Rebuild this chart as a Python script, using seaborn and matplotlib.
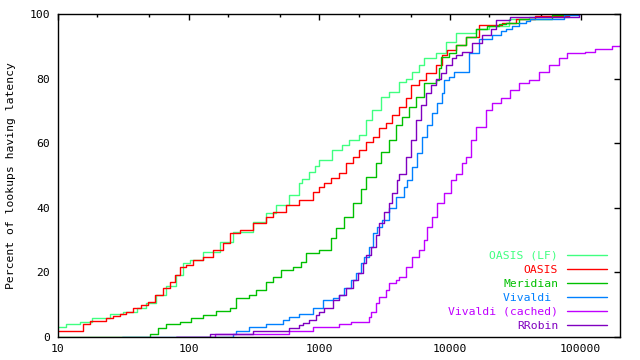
import matplotlib
matplotlib.use("Agg")
import pandas as pd
import seaborn as sns
import matplotlib.pyplot as plt
from matplotlib.ticker import FixedLocator, NullFormatter

# latency (ms) / percent of lookups
lf_ms = [10, 11.6, 14.7, 18.1, 23.5, 24.9, 31.3, 39.9, 47.5, 56.6, 67.6, 80.5, 89.9, 101.8, 128, 172.6,
         217, 308, 392, 467, 590, 703, 741, 839, 931, 1000, 1257, 1499, 1695, 2019, 2284, 2540, 2974,
         3423, 4083, 4616, 5128, 5800, 6335, 7820, 9320, 11120, 15790, 19860, 28200, 40100, 81000]
lf_pct = [3, 4, 4.7, 5.8, 6, 7, 7.8, 8.9, 10.4, 13, 15.8, 19.2, 22.8, 23.8, 26.4, 29.5,
          32.6, 35.7, 38.3, 40.9, 44, 47.6, 49, 51, 53, 54.8, 57.9, 59.4, 61, 62.5, 67.2, 70.3, 74.4,
          75.9, 79, 80, 82.1, 84.2, 86.3, 87.8, 91.4, 94.2, 95.3, 96.3, 98.3, 99, 100]

oasis_ms = [10, 15.6, 17.5, 23.5, 26.4, 29.7, 33.4, 37.6, 43.5, 48.9, 55, 63.7, 71.6, 78.2, 85.4, 96,
            108, 128.5, 153, 183, 205.6, 245, 310, 392, 440, 557, 703, 889, 989, 1091, 1228, 1422,
            1600, 1795, 2020, 2272, 2553, 2871, 3228, 3630, 4081, 4590, 5012, 5797, 6529, 7780, 8735,
            9533, 11060, 13190, 16640, 24950, 31750, 45100, 80900]
oasis_pct = [2, 3.9, 4.9, 5.8, 6.5, 7, 7.8, 8.9, 9.9, 10.9, 13, 15.1, 17.1, 19.2, 21.8, 22.3,
             23.8, 24.9, 26.9, 29, 32.1, 33.1, 35.2, 37.2, 38.8, 40.9, 42.4, 45, 46.5, 47.6, 49.1, 50.7,
             53.8, 55.8, 57.9, 60.5, 62, 64.6, 66.2, 68.7, 71.3, 73.9, 78, 79.6, 81.6, 84.2, 87.3,
             88.9, 90.4, 93, 96.6, 97.1, 98.3, 99.4, 100]

meridian_ms = [10, 51, 58.3, 67.6, 85.4, 105, 128.5, 162.7, 205.6, 231, 292, 329, 392, 440, 510, 626,
               725, 791, 1000, 1228, 1341, 1552, 1795, 2080, 2272, 2710, 2958, 3423, 3850, 4325, 4863,
               5470, 6335, 7780, 8240, 8530, 9820, 11060, 13190, 15710, 19270, 23660, 26610, 33620,
               60100, 76400]
meridian_pct = [0, 0.8, 2.7, 3.9, 4.7, 6, 6.8, 8.1, 8.9, 12, 13, 14.6, 17.1, 18.7, 20.7, 21.8,
                23.3, 25.9, 26.9, 30.6, 33.7, 37.2, 41.4, 45.7, 49.6, 53.8, 57.4, 61, 65.6, 68.2, 71.3,
                74.4, 78.5, 79.6, 83.2, 86.8, 87.8, 90.4, 93, 95.5, 96.2, 96.8, 97.3, 98.3,
                99.7, 100]

vivaldi_ms = [31, 218, 231, 292, 392, 524, 590, 703, 889, 1060, 1264, 1422, 1552, 1746, 1905, 2080,
              2206, 2408, 2553, 2786, 3041, 3423, 3850, 4455, 4722, 5155, 5626, 6145, 6710, 7325, 8000,
              8650, 9000, 9820, 10730, 13960, 16640, 21030, 24380, 26610, 29900, 33620, 37840, 41300,
              74100, 96600]
vivaldi_pct = [0, 0.9, 1.9, 3, 4, 5.3, 6.3, 7, 8.9, 11.5, 12, 13, 15.1, 17.6, 19.7, 22.8,
               24.9, 28, 32.1, 34.1, 36.2, 39.8, 43.4, 46.5, 48.6, 52.7, 56.9, 62, 65.6, 69.3, 72.4,
               75.4, 79.6, 80.6, 82.1, 87.8, 92.2, 93.5, 94.6, 95.4, 96.2, 97.2, 97.9, 98.5,
               99.7, 100]

cached_ms = [80, 160, 590, 889, 1422, 1746, 2408, 2483, 2710, 2871, 3228, 3423, 3850, 4081, 4590, 5155,
             5797, 6335, 6710, 7325, 8000, 9000, 10120, 11060, 12420, 13190, 14390, 15710, 18740, 21030,
             24380, 29040, 33620, 40100, 47800, 57000, 67900, 78600, 108600, 129500, 173300, 200000]
cached_pct = [0, 1, 1.8, 3.2, 4, 4.7, 6.3, 7.8, 10.4, 12.5, 14.6, 16.6, 17.6, 18.7, 21.8, 24.9,
              26.9, 30, 34.1, 37.2, 41.4, 44.5, 48.6, 50.6, 53.8, 55.8, 61, 65.1, 70.3, 72.4,
              73.9, 76.5, 78.5, 79.6, 82.1, 84.2, 86.3, 88, 88.3, 89.1, 90, 90.4]

rrobin_ms = [80, 145, 310, 590, 703, 746, 839, 944, 1000, 1091, 1264, 1422, 1600, 1795, 1960, 2142,
             2272, 2483, 2710, 2871, 3134, 3423, 3630, 3963, 4081, 4590, 5012, 5470, 5972, 6529, 7127,
             7780, 8530, 9270, 10420, 11060, 12420, 14800, 17650, 20450, 22330, 29040, 96600]
rrobin_pct = [0, 1, 1.9, 2.9, 3.7, 4.2, 5.3, 6.8, 7.8, 8.9, 11.5, 13, 15.1, 17.6, 19.7, 22.8,
              25.4, 28, 31.6, 35.2, 38.8, 41.4, 44.5, 48.6, 50.6, 55.8, 61, 67.2, 71.8, 75.4, 78,
              80, 81.6, 84.2, 86.3, 87.3, 88.3, 90.9, 93.5, 95.5, 98.1, 99.2, 100]

names = ["OASIS (LF)", "OASIS", "Meridian", "Vivaldi", "Vivaldi (cached)", "RRobin"]
colors = ["#40ff80", "#ff0000", "#00c000", "#0080ff", "#c000ff", "#8000c0"]
series = [(lf_ms, lf_pct), (oasis_ms, oasis_pct), (meridian_ms, meridian_pct),
          (vivaldi_ms, vivaldi_pct), (cached_ms, cached_pct), (rrobin_ms, rrobin_pct)]

df = pd.concat([pd.DataFrame({"latency": ms, "percent": pct, "system": n})
                for n, (ms, pct) in zip(names, series)], ignore_index=True)

sns.set_theme(style="white")
plt.rcParams["font.family"] = ["DejaVu Sans Mono"]
plt.rcParams["font.size"] = 8.2

fig = plt.figure(figsize=(6.4, 3.6), dpi=100)
ax = fig.add_axes([58 / 640, 23 / 360, 562 / 640, 323 / 360])

sns.lineplot(data=df, x="latency", y="percent", hue="system", hue_order=names,
             palette=dict(zip(names, colors)), estimator=None, drawstyle="steps-post",
             linewidth=1.0, legend=False, ax=ax)

ax.set_xscale("log")
ax.set_xlim(10, 200000)
ax.set_ylim(0, 100)
ax.set_xticks([10, 100, 1000, 10000, 100000], labels=["10", "100", "1000", "10000", "100000"])
ax.xaxis.set_minor_locator(FixedLocator([20, 50, 200, 500, 2000, 5000, 20000, 50000]))
ax.xaxis.set_minor_formatter(NullFormatter())
ax.set_yticks([0, 20, 40, 60, 80, 100])
ax.tick_params(which="both", direction="in", top=True, right=True, colors="black",
               width=1, labelsize=8.2)
ax.tick_params(which="major", length=4.5)
ax.tick_params(which="minor", length=2.2)
ax.tick_params(axis="x", pad=5)
ax.tick_params(axis="y", pad=5.5)
for s in ax.spines.values():
    s.set_color("black")
    s.set_linewidth(1.0)

ax.set_xlabel("")
ax.set_ylabel("Percent of lookups having latency", labelpad=10, color="black", fontsize=8.2)

handles = ax.get_lines()[:len(names)]
leg = ax.legend(handles, ["OASIS (LF)", "OASIS", "Meridian", "Vivaldi ", "Vivaldi (cached)", "RRobin"],
                loc="lower right", bbox_to_anchor=(0.976, 0.02), frameon=False, markerfirst=False,
                labelcolor="linecolor", handlelength=3.5, handletextpad=0.75, labelspacing=0.35,
                borderpad=0, borderaxespad=0, fontsize=8.2)

fig.savefig("out.png", dpi=100)
